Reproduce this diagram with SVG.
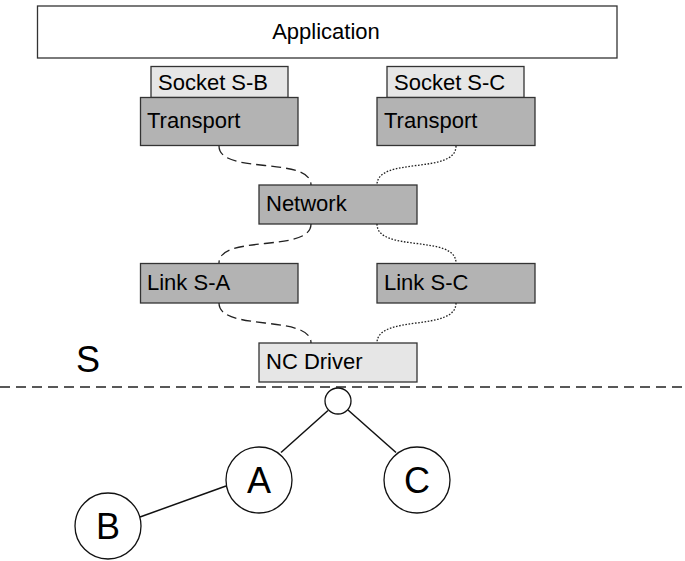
<svg xmlns="http://www.w3.org/2000/svg" width="685" height="561" viewBox="0 0 685 561">
  <style>
    .box { stroke: #333333; stroke-width: 1.3; }
    .white { fill: #ffffff; }
    .light { fill: #e6e6e6; }
    .dark { fill: #b3b3b3; }
    .label { font-family: "Liberation Sans", Arial, sans-serif; font-size: 22px; fill: #000000; }
    .big { font-family: "Liberation Sans", Arial, sans-serif; font-size: 36px; fill: #000000; }
    .dashed { fill: none; stroke: #222222; stroke-width: 1.3; stroke-dasharray: 10 5; }
    .dotted { fill: none; stroke: #222222; stroke-width: 1.3; stroke-dasharray: 1.6 1.6; }
    .edge { fill: none; stroke: #111111; stroke-width: 1.5; }
    .node { fill: #ffffff; stroke: #111111; stroke-width: 1.3; }
  </style>

  <rect width="685" height="561" fill="#ffffff"/>

  <!-- protocol stack -->
  <g id="application">
    <rect class="box white" x="37.5" y="6" width="579.5" height="52"/>
    <text class="label" x="326" y="39" text-anchor="middle">Application</text>
  </g>
  <g id="socket-sb">
    <rect class="box light" x="151" y="66.5" width="137" height="31"/>
    <text class="label" x="158" y="90">Socket S-B</text>
  </g>
  <g id="socket-sc">
    <rect class="box light" x="387" y="66.5" width="137" height="31"/>
    <text class="label" x="394" y="90">Socket S-C</text>
  </g>
  <g id="transport-left">
    <rect class="box dark" x="140.5" y="97.5" width="157.5" height="48"/>
    <text class="label" x="147" y="128">Transport</text>
  </g>
  <g id="transport-right">
    <rect class="box dark" x="377" y="97.5" width="158" height="48"/>
    <text class="label" x="384" y="128">Transport</text>
  </g>
  <g id="network">
    <rect class="box dark" x="259" y="185" width="158" height="39"/>
    <text class="label" x="266" y="211">Network</text>
  </g>
  <g id="link-sa">
    <rect class="box dark" x="140.5" y="263.5" width="157.5" height="39.5"/>
    <text class="label" x="147" y="290">Link S-A</text>
  </g>
  <g id="link-sc">
    <rect class="box dark" x="377" y="263.5" width="158" height="39.5"/>
    <text class="label" x="384" y="290">Link S-C</text>
  </g>
  <g id="nc-driver">
    <rect class="box light" x="259" y="343" width="158" height="39"/>
    <text class="label" x="266" y="369">NC Driver</text>
  </g>

  <!-- paths through the stack -->
  <g id="connectors">
    <path class="dashed" d="M219,146 C219,175 311,156 311,185"/>
    <path class="dotted" d="M456,146 C456,175 377,156 377,185"/>
    <path class="dashed" d="M311,224 C311,253 219,234 219,263"/>
    <path class="dotted" d="M377,224 C377,253 456,234 456,263"/>
    <path class="dashed" d="M219,303 C219,332 311,314 311,343"/>
    <path class="dotted" d="M456,303 C456,332 377,314 377,343"/>
  </g>

  <!-- system boundary -->
  <g id="boundary">
    <line x1="0" y1="387" x2="685" y2="387" stroke="#222222" stroke-width="1.5" stroke-dasharray="10 6"/>
    <text class="big" x="76" y="372" font-size="35">S</text>
  </g>

  <!-- topology -->
  <g id="edges">
    <line class="edge" x1="328" y1="410.5" x2="281" y2="452.5"/>
    <line class="edge" x1="348" y1="410" x2="396" y2="452.5"/>
    <line class="edge" x1="226" y1="486" x2="140" y2="517"/>
  </g>
  <g id="hub">
    <circle class="node" cx="338" cy="401" r="13"/>
  </g>
  <g id="node-a">
    <circle class="node" cx="259" cy="480" r="33"/>
    <text class="big" x="259" y="492.5" text-anchor="middle">A</text>
  </g>
  <g id="node-c">
    <circle class="node" cx="417" cy="480" r="33"/>
    <text class="big" x="417" y="492.5" text-anchor="middle">C</text>
  </g>
  <g id="node-b">
    <circle class="node" cx="108" cy="526" r="33"/>
    <text class="big" x="108" y="538.5" text-anchor="middle">B</text>
  </g>
</svg>
